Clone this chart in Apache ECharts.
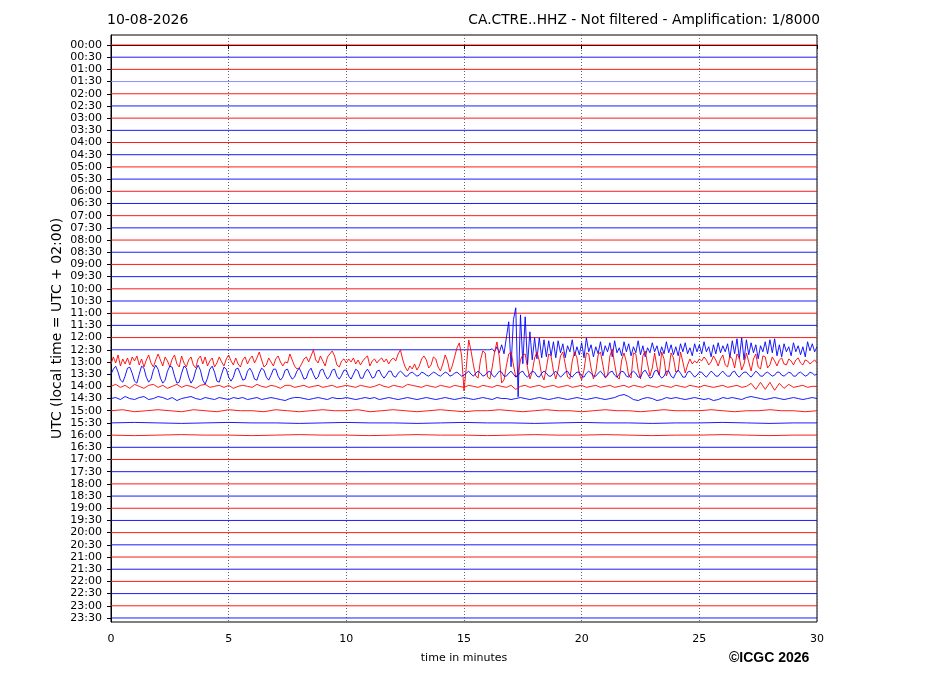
<!DOCTYPE html>
<html>
<head>
<meta charset="utf-8">
<title>CA.CTRE..HHZ</title>
<script src="https://cdn.jsdelivr.net/npm/echarts@6/dist/echarts.min.js"></script>
<style>
html, body { margin: 0; padding: 0; background: #fff; }
#chart { width: 927px; height: 696px; }
</style>
</head>
<body>
<div id="chart"></div>
<script>
// x ticks (minutes)
var timeTicks = [0, 5, 10, 15, 20, 25, 30];
// one trace per half hour, top to bottom
var rowLabels = [
    '00:00', '00:30', '01:00', '01:30', '02:00', '02:30', '03:00', '03:30',
    '04:00', '04:30', '05:00', '05:30', '06:00', '06:30', '07:00', '07:30',
    '08:00', '08:30', '09:00', '09:30', '10:00', '10:30', '11:00', '11:30',
    '12:00', '12:30', '13:00', '13:30', '14:00', '14:30', '15:00', '15:30',
    '16:00', '16:30', '17:00', '17:30', '18:00', '18:30', '19:00', '19:30',
    '20:00', '20:30', '21:00', '21:30', '22:00', '22:30', '23:00', '23:30'
];

// trace deflections (positive = up), evenly spaced in time
// 12:30 trace, quiet until 16.0 min then 0.1 min steps
var dev1230 = [
    0, 0, 1, -2, 3, -3, 5, -4, 12, 28,
    -17, 30, 42, -47, 35, -14, 33, -15, 18, -10,
    12, -9, 12, -8, 10, -7, 9, -6, 8, -8,
    9, -3, 6, -8, 4, -2, 10, -6, 3, -5,
    7, -8, 12, -2, 5, -7, 3, -4, 8, -6,
    4, -2, 7, -7, 9, -3, 2, -6, 8, -2,
    6, -6, 3, -3, 9, -5, 4, -7, 2, -3,
    7, -2, 4, -6, 3, -4, 8, -3, 5, -5,
    3, -6, 6, -2, 7, -4, 2, -6, 6, -2,
    5, -4, 8, -2, 3, -7, 5, -4, 7, -3,
    4, -2, 6, -8, 9, -4, 11, -9, 12, -10,
    10, -5, 7, -3, 5, -9, 4, -2, 8, -4,
    10, -3, 11, -6, 5, -7, 6, -2, 3, -6,
    7, -2, 4, -5, 3, -7, 8, -1, 6, -2,
    3
];
// 13:00 trace, 0..30 min
var dev1300 = [
    -2, 5, -1, 7, -4, 3, -2, 4, -3, 5,
    1, 6, -3, 3, -5, 2, 7, -1, -5, 2,
    8, 2, -4, 5, 1, -5, 3, 7, -2, -5,
    6, -1, -5, 2, 5, -3, -6, 3, 6, -2,
    5, -4, 1, 4, -5, -1, 5, 0, -4, 3,
    7, 1, -3, 4, -2, -5, 2, 5, -2, 3,
    6, -1, 4, 10, 2, -5, -3, 4, 0, -4,
    3, 6, 0, -4, 0, -1, 8, 2, -4, -7,
    -6, -2, 3, 5, 0, 6, 12, 2, -1, 6,
    1, -4, 5, 8, 11, 6, -3, -5, 1, 3,
    -1, 3, 0, 4, -2, 2, -3, 1, 4, 6,
    -4, 1, 3, -1, 2, 4, 0, 3, -2, 2,
    4, 1, 8, 12, 2, -5, -9, -4, -7, -2,
    -8, -4, 3, 6, 2, -6, -3, 5, 3, -5,
    -9, -2, 7, 1, -10, -4, 5, 14, 19, 6,
    -29, -5, 22, 11, -3, -14, -16, 2, 11, 9,
    -15, -17, -5, 10, 20, 5, -21, -18, -4, 8,
    10, -3, -15, -12, 2, 7, 8, -6, -17, -10,
    4, 10, 1, -13, -18, -6, 8, 6, -9, -17,
    -8, 6, 10, -2, -15, -17, 1, 10, 4, -12,
    -18, -8, 9, 8, -6, -17, -10, 7, 10, -3,
    -16, -14, 6, 13, -2, -15, -17, 2, 9, 0,
    -14, -16, 9, 8, -8, -17, 6, 11, -2, -14,
    -6, 9, -5, -13, 10, 3, -14, -8, 9, 4,
    -10, -9, 10, 0, -11, -3, 3, -2, 1, -1,
    3, 1, 5, 2, -3, 0, 6, 2, -4, 3,
    7, -3, -5, 6, 3, -6, 8, 4, -8, -2,
    9, 0, -9, 3, 8, -5, -7, 6, 5, -6,
    -3, 5, 1, -4, 2, 4, -2, -3, 3, 1,
    -3, 2, 4, -1, -3, 2, 1, -2, 0, 2,
    -1
];
// 13:30 trace, 0..30 min
var dev1330 = [
    0, 5, 8, 2, -6, -8, -2, 6, 7, 1,
    -7, -9, 0, 8, 6, -3, -8, -5, 4, 9,
    5, -4, -9, -6, 3, 8, 7, -2, -9, -8,
    1, 8, 6, -3, -9, -5, 4, 9, 4, -6,
    -10, -4, 5, 8, 2, -7, -8, 0, 7, 5,
    -3, -7, -3, 5, 6, 0, -6, -5, 3, 6,
    2, -5, -6, 1, 6, 4, -3, -6, -1, 5,
    5, -2, -6, -3, 4, 5, -1, -5, -3, 3,
    6, 1, -5, -4, 3, 6, 0, -5, -3, 4,
    5, -1, -5, -2, 4, 5, -2, -5, -1, 4,
    4, -2, -5, 0, 5, 3, -4, -4, 2, 5,
    1, -4, -3, 3, 4, -1, -4, -1, 3, 3,
    -2, -3, 1, 3, 1, -2, -2, 1, 2, 0,
    -2, -1, 2, 1, -1, -2, 0, 2, 1, -1,
    -2, 0, 2, 1, -2, -1, 1, 2, 0, -2,
    -1, 1, 3, 0, -2, 1, 3, 1, -2, -1,
    2, 3, -1, -3, 0, 3, 2, -2, -2, 1,
    3, 0, -3, -1, 2, 3, -1, -3, 0, 3,
    2, -2, -3, 1, 3, 1, -2, -2, 1, 3,
    0, -3, -1, 2, 3, -1, -3, 0, 2, 2,
    -2, -3, 1, 3, 1, -2, -2, 1, 3, 0,
    -3, -1, 2, 3, -1, -3, 0, 3, 2, -2,
    -3, 1, 3, 1, -3, -3, 2, 4, 0, -4,
    -3, 3, 4, -1, -4, -2, 3, 3, -2, -4,
    1, 4, 1, -3, -3, 2, 3, 0, -3, -1,
    2, 2, -1, -3, 0, 3, 1, -2, -2, 1,
    3, 0, -2, -2, 2, 3, -1, -3, 0, 2,
    2, -1, -3, 0, 3, 1, -2, -2, 1, 2,
    0, -2, -1, 2, 2, -1, -2, 0, 2, 1,
    -2, -2, 1, 2, 0, -2, -1, 2, 1, -1,
    0
];
// 14:00 trace, 0.2 min steps
var dev1400 = [
    0, 2, -1, 1, -2, 2, 0, -2, 1, 2, -1, 1, -2, 0, 2,
    -1, 1, 0, -2, 1, 2, -1, 0, 1, -1, 1, -2, 0, 1, 0,
    -1, 2, 0, -1, 1, 0, -2, 1, 1, -1, 0, 1, -1, 0, 1,
    -1, 0, 1, -1, 0, 1, 0, -1, 1, 0, -1, 0, 2, 0, -1,
    1, 0, -1, 2, 1, 0, -1, 1, 0, -1, 1, 0, -1, 1, 0,
    -1, 1, 0, -1, 1, 0, -1, 1, 0, -1, 1, -3, 0, 1, -1,
    0, 1, -1, 0, 1, -1, 0, 1, -1, 0, 1, -1, 0, 1, -1,
    0, 1, -1, 0, 1, -1, 1, 0, -1, 1, 0, -1, 1, 0, -1,
    1, 0, -1, 1, 0, -1, 1, 0, -1, 0, 1, -1, 0, 1, -1,
    0, 3, -3, 4, -3, 4, -4, 3, -2, 2, -1, 0, 1, -1, 0,
    0
];
// 14:30 trace, 0.2 min steps
var dev1430 = [
    0, 1, -1, 2, 0, -1, 1, 2, -1, 0, 2, 1, -1, 1, -2,
    0, 1, 2, 0, -1, 1, 0, -1, 1, 0, -1, 1, 0, 1, -1,
    0, 1, -1, 0, 1, 0, -1, -2, 0, 1, 1, 0, -1, 0, 1,
    0, -1, 1, 0, 0, 1, 0, -1, 0, 1, 0, 1, -1, 0, 1,
    0, -1, 0, 1, 0, -1, 0, 1, 0, -1, 0, 1, 0, -1, 0,
    1, 0, -1, 0, 1, 0, -1, 1, 0, 0, -1, 0, 1, 0, -1,
    0, 1, 0, -1, 0, 1, 0, -1, 0, 1, 0, -1, 0, 1, 0,
    -1, 0, 1, 3, 4, 2, -1, -2, 0, 1, 0, -2, -1, 1, 0,
    1, 0, -1, 0, 1, 0, -1, 0, -2, -1, 1, 0, 1, 0, -1,
    1, 2, 1, 0, -1, 0, 1, 0, -1, 0, 1, 0, -1, 0, 1,
    0
];
// 15:00 trace, 0.5 min steps
var dev1500 = [
    0, 1, -1, 0, 1, 0, -1, 1, 0, -1, 1, 0, 0, -1, 1, 0, -1, 0, 1, 0,
    0, 1, -1, 0, 1, 0, -1, 0, 1, 0, -1, 0, 0, 1, 0, -1, 0, 1, 0, 0,
    -1, 0, 1, 0, 0, -1, 0, 1, 0, 0, 0, 1, 0, -1, 0, 0, 1, 0, 0, -1,
    0
];
// 15:30 and 16:00 traces, 1 min steps
var dev1530 = [
    0, 0.5, 0, -0.5, 0, 0.5, 0, 0, -0.5, 0, 0.5, 0, 0, -0.5, 0, 0.5,
    0, 0, -0.5, 0, 0.5, 0, 0, -0.5, 0, 0, 0.5, 0, -0.5, 0, 0
];
var dev1600 = [
    0, -0.5, 0, 0.5, 0, 0, -0.5, 0, 0.5, 0, 0, -0.5, 0, 0.5, 0, 0,
    -0.5, 0, 0.5, 0, 0, 0.5, 0, -0.5, 0, 0, 0.5, 0, -0.5, 0, 0
];

// which rows carry recorded motion: [row, deflections, first minute]
var activeRows = [
    [25, dev1230, 16],
    [26, dev1300, 0],
    [27, dev1330, 0],
    [28, dev1400, 0],
    [29, dev1430, 0],
    [30, dev1500, 0],
    [31, dev1530, 0],
    [32, dev1600, 0]
];

// deflection units -> fraction of trace spacing
var GAIN = 1 / 12.2;

function buildTrace(row) {
    var devs = null, start = 0;
    for (var k = 0; k < activeRows.length; k++) {
        if (activeRows[k][0] == row) {
            devs = activeRows[k][1];
            start = activeRows[k][2];
        }
    }
    if (!devs) {
        return [[0, row], [30, row]];
    }
    var out = [];
    if (start > 0) out.push([0, row]);
    var step = (30 - start) / (devs.length - 1);
    for (var i = 0; i < devs.length; i++) {
        out.push([start + i * step, row - devs[i] * GAIN]);
    }
    return out;
}

var series = [];
for (var r = 0; r < rowLabels.length; r++) {
    var col = r % 2 == 0 ? '#ff0000' : '#0000ff';
    if (r == 3) col = '#8080ff';
    series.push({
        name: rowLabels[r],
        type: 'line',
        data: buildTrace(r),
        symbol: 'none',
        silent: true,
        animation: false,
        lineStyle: { width: 0.9, color: col }
    });
}

var rowValues = rowLabels.map(function (l, i) { return i; });

var chart = echarts.init(document.getElementById('chart'));
var option = {
    backgroundColor: '#fff',
    animation: false,
    textStyle: { fontFamily: 'DejaVu Sans', color: '#000' },
    title: [{
        text: '10-08-2026',
        left: 107,
        top: 13,
        padding: 0,
        textStyle: { fontSize: 14, fontWeight: 'normal', color: '#000', fontFamily: 'DejaVu Sans' }
    }, {
        text: 'CA.CTRE..HHZ - Not filtered - Amplification: 1/8000',
        right: 107,
        top: 13,
        padding: 0,
        textStyle: { fontSize: 13.8, fontWeight: 'normal', color: '#000', fontFamily: 'DejaVu Sans' }
    }],
    grid: {
        left: 111, right: 110, top: 35, bottom: 74,
        show: true, borderColor: '#000', borderWidth: 1
    },
    xAxis: {
        type: 'value',
        min: timeTicks[0],
        max: timeTicks[timeTicks.length - 1],
        interval: 5,
        name: 'time in minutes',
        nameLocation: 'middle',
        nameGap: 31,
        nameTextStyle: { fontSize: 11, color: '#000' },
        axisLine: { show: true, lineStyle: { color: '#000', width: 1 } },
        axisTick: { show: true, length: 4, lineStyle: { color: '#000' } },
        axisLabel: { fontSize: 11, color: '#000', margin: 12 },
        splitLine: { show: true, lineStyle: { type: [1, 2], color: '#666', width: 1 } }
    },
    yAxis: {
        type: 'value',
        inverse: true,
        min: -0.82,
        max: 47.33,
        name: 'UTC (local time = UTC + 02:00)',
        nameLocation: 'middle',
        nameGap: 47,
        nameMoveOverlap: false,
        nameTextStyle: { fontSize: 14, color: '#000' },
        axisLine: { show: true, lineStyle: { color: '#000', width: 1 } },
        axisTick: { show: true, length: 4, customValues: rowValues, lineStyle: { color: '#000' } },
        axisLabel: {
            customValues: rowValues,
            fontSize: 11,
            color: '#000',
            margin: 9,
            formatter: function (v) { return rowLabels[Math.round(v)]; }
        },
        splitLine: { show: false }
    },
    graphic: [{
        type: 'text',
        left: 729,
        top: 651,
        style: { text: '©ICGC 2026', font: 'bold 14px "Liberation Sans", Arial', fill: '#000' }
    }],
    series: series
};
chart.setOption(option);
window.onresize = function () {
    chart.resize();
};
</script>
</body>
</html>
